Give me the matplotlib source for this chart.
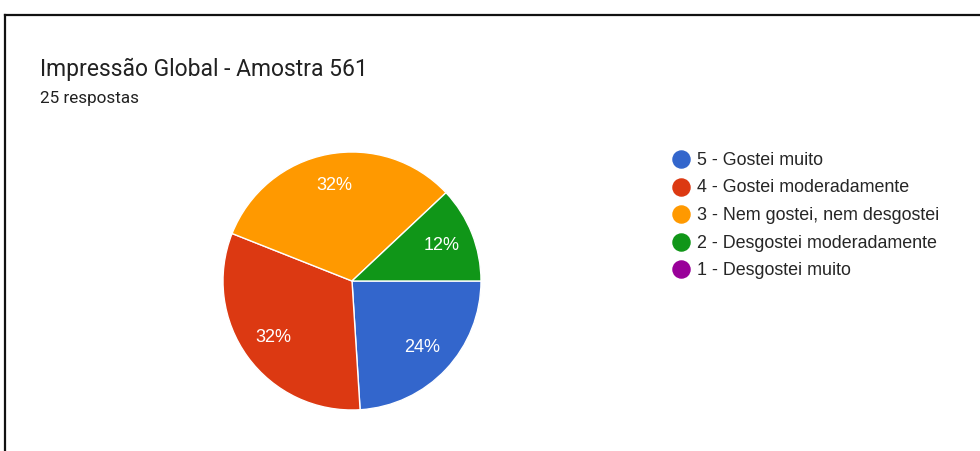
import matplotlib
matplotlib.use('Agg')
import matplotlib.pyplot as plt
from matplotlib.lines import Line2D

plt.rcParams['font.family'] = ['Roboto', 'DejaVu Sans']
chart_font = ['Liberation Sans', 'DejaVu Sans']

title = 'Impressão Global - Amostra 561'
subtitle = '25 respostas'
labels = ['5 - Gostei muito', '4 - Gostei moderadamente', '3 - Nem gostei, nem desgostei',
          '2 - Desgostei moderadamente', '1 - Desgostei muito']
counts = [6, 8, 8, 3, 0]
colors = ['#3366cc', '#dc3912', '#ff9900', '#109618', '#990099']

W, H = 980, 451
fig = plt.figure(figsize=(W / 100, H / 100), dpi=100)

# card border (top and left edges only)
fig.add_artist(Line2D([5 / W, 1], [1 - 15 / H, 1 - 15 / H], color='#111111', lw=1.6))
fig.add_artist(Line2D([5 / W, 5 / W], [0, 1 - 15 / H], color='#111111', lw=1.6))

fig.text(40 / W, 1 - 76 / H, title, fontsize=16.5, color='#212121')
fig.text(40 / W, 1 - 103 / H, subtitle, fontsize=12.3, color='#212121')

# pie
cx, cy, r = 352, 281, 129
ax = fig.add_axes([(cx - r) / W, (H - cy - r) / H, 2 * r / W, 2 * r / H])
nz = [(c, col) for c, col in zip(counts, colors) if c > 0]
wedges, texts, autotexts = ax.pie(
    [c for c, _ in nz], colors=[col for _, col in nz], startangle=0, counterclock=False,
    autopct='%1.0f%%', pctdistance=0.75, radius=1,
    wedgeprops=dict(edgecolor='white', linewidth=1),
    textprops=dict(color='white', fontsize=13, family=chart_font))
ax.set_xlim(-1, 1)
ax.set_ylim(-1, 1)
ax.set_aspect('equal')
ax.axis('off')

# legend
lx, ly0, dy = 681, 159, 27.5
for i, (lab, col) in enumerate(zip(labels, colors)):
    y = 1 - (ly0 + i * dy) / H
    fig.add_artist(Line2D([lx / W], [y], marker='o', markersize=12.3, color=col, lw=0))
    fig.text(697 / W, y - 1.5 / H, lab, fontsize=12.9, color='#262626', va='center', family=chart_font)

fig.savefig('out.png', dpi=100, facecolor='white')
